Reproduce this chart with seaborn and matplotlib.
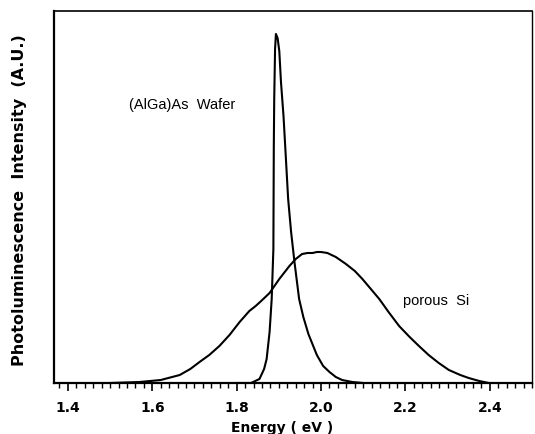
import numpy as np
import pandas as pd
import matplotlib
matplotlib.use("Agg")
import matplotlib.pyplot as plt
import seaborn as sns

# (AlGa)As wafer photoluminescence spectrum
wafer_energy = [1.800, 1.834, 1.854, 1.865, 1.871, 1.878, 1.883, 1.887, 1.888, 1.889,
                1.891, 1.893, 1.897, 1.901, 1.905, 1.911, 1.915, 1.922, 1.929, 1.937,
                1.948, 1.958, 1.970, 1.990, 2.005, 2.020, 2.035, 2.050, 2.074, 2.100]
wafer_intensity = [0, 0, 4, 14, 24, 51, 84, 134, 237, 284,
                   334, 349, 345, 332, 301, 267, 237, 184, 151, 121,
                   84, 66, 49, 28, 17, 11, 6, 3, 1, 0]

# porous Si photoluminescence spectrum
si_energy = [1.500, 1.570, 1.620, 1.665, 1.690, 1.712, 1.735, 1.759, 1.783, 1.807,
             1.830, 1.845, 1.858, 1.878, 1.901, 1.925, 1.940, 1.955, 1.968, 1.980,
             1.990, 2.000, 2.015, 2.035, 2.059, 2.080, 2.098, 2.120, 2.138, 2.160,
             2.185, 2.210, 2.232, 2.255, 2.279, 2.303, 2.330, 2.350, 2.375, 2.398]
si_intensity = [0, 1, 3, 8, 14, 21, 28, 37, 48, 61,
                72, 77, 82, 90, 104, 117, 124, 129, 130, 130,
                131, 131, 130, 126, 119, 112, 104, 93, 84, 71,
                57, 46, 37, 28, 20, 13, 8, 5, 2, 0]

major_ticks = [1.4, 1.6, 1.8, 2.0, 2.2, 2.4]
tick_labels = ["1.4", "1.6", "1.8", "2.0", "2.2", "2.4"]

sns.set_style("white")
plt.rcParams["font.family"] = ["Liberation Sans", "DejaVu Sans"]
plt.rcParams["text.color"] = "black"
plt.rcParams["axes.labelcolor"] = "black"
plt.rcParams["xtick.color"] = "black"

fig = plt.figure(figsize=(5.35, 4.35), dpi=100)
ax = fig.add_axes([54 / 535, 1 - 384 / 435, (532 - 54) / 535, (384 - 12) / 435])

df = pd.concat([
    pd.DataFrame({"Energy": wafer_energy, "Intensity": wafer_intensity, "sample": "wafer"}),
    pd.DataFrame({"Energy": si_energy, "Intensity": si_intensity, "sample": "si"}),
])
sns.lineplot(data=df, x="Energy", y="Intensity", units="sample", estimator=None,
             sort=False, color="black", linewidth=1.5, ax=ax, legend=False)

ax.set_xlim(1.367, 2.497)
ax.set_ylim(0, 372)
ax.set_yticks([])
ax.set_xticks(major_ticks)
ax.set_xticklabels(tick_labels, fontsize=10, fontweight="bold", family="DejaVu Sans")
ax.set_xticks(np.arange(1.38, 2.50, 0.02), minor=True)
ax.tick_params(axis="x", which="major", direction="out", length=6, width=1.2,
               color="black", bottom=True, pad=6)
ax.tick_params(axis="x", which="minor", direction="out", length=3.5, width=1.0,
               color="black", bottom=True)
for side in ["left", "bottom", "top", "right"]:
    ax.spines[side].set_visible(True)
    ax.spines[side].set_color("black")
ax.spines["left"].set_linewidth(1.6)
ax.spines["bottom"].set_linewidth(1.6)
ax.spines["top"].set_linewidth(1.2)
ax.spines["right"].set_linewidth(1.0)

ax.set_xlabel("Energy ( eV )", fontsize=10, fontweight="bold", family="DejaVu Sans")
ax.xaxis.set_label_coords((282 - 54) / 478, -(428 - 384) / 372)
ax.xaxis.label.set_va("center")
ax.set_ylabel("Photoluminescence  Intensity  (A.U.)", fontsize=11.5,
              fontweight="bold", family="DejaVu Sans")
ax.yaxis.set_label_coords(-(54 - 20) / 478, (384 - 200) / 372)
ax.yaxis.label.set_va("center")

ax.text(1.670, 279, "(AlGa)As  Wafer", fontsize=10.5, ha="center", va="center")
ax.text(2.272, 83, "porous  Si", fontsize=10.5, ha="center", va="center")

fig.savefig("out.png", dpi=100, facecolor="white")
